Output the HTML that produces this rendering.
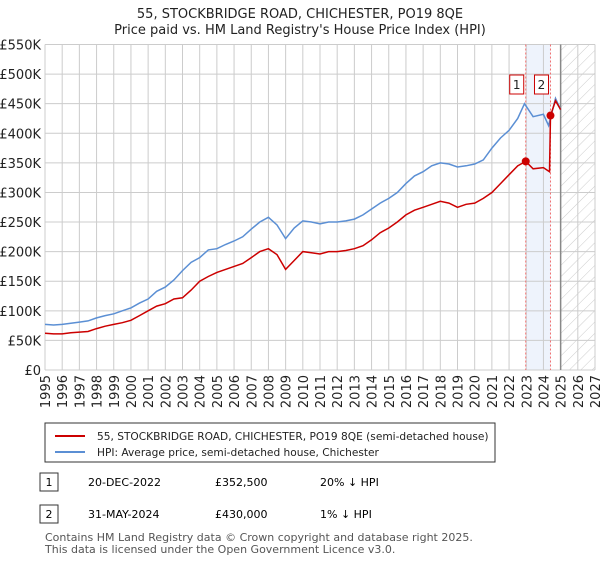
<!DOCTYPE html>
<html><head><meta charset="utf-8"><style>
body{margin:0;background:#fff;font-family:"Liberation Sans","DejaVu Sans",sans-serif;}
svg text{font-family:"DejaVu Sans","Liberation Sans",sans-serif;}
</style></head><body>
<svg id="chart" width="600" height="560" xmlns="http://www.w3.org/2000/svg">
<defs>
<pattern id="hatch" width="8" height="8" patternUnits="userSpaceOnUse" patternTransform="rotate(45)">
<line x1="0" y1="0" x2="0" y2="8" stroke="#ccc" stroke-width="1"/></pattern>
<clipPath id="clip"><rect x="45" y="44" width="550" height="326"/></clipPath>
</defs>
<text x="300" y="18" text-anchor="middle" font-size="13" fill="#222">55, STOCKBRIDGE ROAD, CHICHESTER, PO19 8QE</text>
<text x="300" y="34" text-anchor="middle" font-size="13" fill="#222">Price paid vs. HM Land Registry's House Price Index (HPI)</text>
<g id="grid"></g>
<g id="marks" clip-path="url(#clip)"></g>
<g id="axes"></g>
<rect x="45" y="423" width="450" height="39" fill="#fff" stroke="#333"/>
<line x1="55" y1="436" x2="85" y2="436" stroke="#cc0000" stroke-width="2"/>
<text x="97" y="440" font-size="10.6" fill="#222">55, STOCKBRIDGE ROAD, CHICHESTER, PO19 8QE (semi-detached house)</text>
<line x1="55" y1="452" x2="85" y2="452" stroke="#5b8fd4" stroke-width="2"/>
<text x="97" y="456" font-size="10.6" fill="#222">HPI: Average price, semi-detached house, Chichester</text>
<g>
<rect x="40" y="473" width="18" height="18" fill="#fff" stroke="#333"/>
<text x="49" y="486" text-anchor="middle" font-size="11">1</text>
<text x="88" y="486" font-size="11">20-DEC-2022</text>
<text x="215" y="486" font-size="11">£352,500</text>
<text x="320" y="486" font-size="11">20% ↓ HPI</text></g>
<g>
<rect x="40" y="505" width="18" height="18" fill="#fff" stroke="#333"/>
<text x="49" y="518" text-anchor="middle" font-size="11">2</text>
<text x="88" y="518" font-size="11">31-MAY-2024</text>
<text x="215" y="518" font-size="11">£430,000</text>
<text x="320" y="518" font-size="11">1% ↓ HPI</text></g>
<text x="45" y="541" font-size="11" fill="#555">Contains HM Land Registry data © Crown copyright and database right 2025.</text>
<text x="45" y="553" font-size="11" fill="#555">This data is licensed under the Open Government Licence v3.0.</text>
</svg>
<script>
const yTicks=[0,50000,100000,150000,200000,250000,300000,350000,400000,450000,500000,550000];
const yTickLabels=["£0","£50K","£100K","£150K","£200K","£250K","£300K","£350K","£400K","£450K","£500K","£550K"];
const xTicks=[1995,1996,1997,1998,1999,2000,2001,2002,2003,2004,2005,2006,2007,2008,2009,2010,2011,2012,2013,2014,2015,2016,2017,2018,2019,2020,2021,2022,2023,2024,2025,2026,2027];
const hpiYears=[1995,1995.5,1996,1996.5,1997,1997.5,1998,1998.5,1999,1999.5,2000,2000.5,2001,2001.5,2002,2002.5,2003,2003.5,2004,2004.5,2005,2005.5,2006,2006.5,2007,2007.5,2008,2008.5,2009,2009.5,2010,2010.5,2011,2011.5,2012,2012.5,2013,2013.5,2014,2014.5,2015,2015.5,2016,2016.5,2017,2017.5,2018,2018.5,2019,2019.5,2020,2020.5,2021,2021.5,2022,2022.5,2022.9,2023.4,2024,2024.3,2024.7,2025];
const hpiValues=[77,76,77,79,81,83,88,92,95,100,105,113,120,133,140,152,168,182,190,203,205,212,218,225,238,250,258,245,222,240,252,250,247,250,250,252,255,262,272,282,290,300,315,328,335,345,350,348,343,345,348,355,375,392,405,425,450,428,432,413,459,440];
const ppYears=[1995,1995.5,1996,1996.5,1997,1997.5,1998,1998.5,1999,1999.5,2000,2000.5,2001,2001.5,2002,2002.5,2003,2003.5,2004,2004.5,2005,2005.5,2006,2006.5,2007,2007.5,2008,2008.5,2009,2009.5,2010,2010.5,2011,2011.5,2012,2012.5,2013,2013.5,2014,2014.5,2015,2015.5,2016,2016.5,2017,2017.5,2018,2018.5,2019,2019.5,2020,2020.5,2021,2021.5,2022,2022.5,2022.97,2023.4,2024,2024.35,2024.41,2024.7,2025];
const ppValues=[62,61,61,63,64,65,70,74,77,80,84,92,100,108,112,120,122,135,150,158,165,170,175,180,190,200,205,195,170,185,200,198,196,200,200,202,205,210,220,232,240,250,262,270,275,280,285,282,275,280,282,290,300,315,330,345,352.5,340,342,335,430,455,440];
const saleYears=[2022.97,2024.41];
const saleValues=[352.5,430];
const saleLabels=["1","2"];

const NS="http://www.w3.org/2000/svg";
const X0=45,X1=595,Y0=370,Y1=44.5;
const x=y=>X0+(y-1995)/(2027-1995)*(X1-X0);
const yv=v=>Y0-v/550000*(Y0-Y1);
function mk(tag,attrs,parent){const e=document.createElementNS(NS,tag);for(const k in attrs)e.setAttribute(k,attrs[k]);parent.appendChild(e);return e;}
const grid=document.getElementById('grid'),marks=document.getElementById('marks'),axes=document.getElementById('axes');
let r=mk('rect',{x:x(saleYears[0]),y:Y1,width:x(saleYears[1])-x(saleYears[0]),height:Y0-Y1,fill:'#eef3fc'},grid);


r=mk('rect',{x:x(2025),y:Y1,width:X1-x(2025),height:Y0-Y1,fill:'url(#hatch)'},grid);


yTicks.forEach((v,i)=>{
 const l=mk('line',{x1:X0,x2:X1,y1:yv(v),y2:yv(v),stroke:'#ccc'},grid);
 
 
 const t=mk('text',{x:X0-4,y:yv(v)+5,'text-anchor':'end','font-size':'13',fill:'#222'},axes);
 t.textContent=yTickLabels[i];
 
 
});
xTicks.forEach(yr=>{
 const l=mk('line',{x1:x(yr),x2:x(yr),y1:Y1,y2:Y0,stroke:'#ccc'},grid);
 
 
 const t=mk('text',{transform:`translate(${x(yr)+5},${Y0+5}) rotate(-90)`,'text-anchor':'end','font-size':'13',fill:'#222'},axes);
 t.textContent=yr;
 
 
});
let l=mk('line',{x1:x(2025),x2:x(2025),y1:Y1,y2:Y0,stroke:'#888','stroke-width':1.5},grid);


saleYears.forEach(s=>{
 const d=mk('line',{x1:x(s),x2:x(s),y1:Y1,y2:Y0,stroke:'#f07070','stroke-dasharray':'2,2'},grid);
 
 
});
const pts=(ys,vs)=>ys.map((yy,i)=>x(yy).toFixed(1)+','+yv(vs[i]*1000).toFixed(1)).join(' ');
let p=mk('polyline',{points:pts(hpiYears,hpiValues),fill:'none',stroke:'#5b8fd4','stroke-width':1.5},marks);


p=mk('polyline',{points:pts(ppYears,ppValues),fill:'none',stroke:'#cc0000','stroke-width':1.5},marks);


saleYears.forEach((s,i)=>{
 const c=mk('circle',{cx:x(s),cy:yv(saleValues[i]*1000),r:4,fill:'#cc0000'},marks);
 
 
 const b=mk('rect',{x:x(s)-16,y:75,width:14,height:19,fill:'#fff',stroke:'#cc0000'},axes);
 
 
 const t=mk('text',{x:x(s)-9,y:89,'text-anchor':'middle','font-size':'12',fill:'#222'},axes);
 t.textContent=saleLabels[i];
 
 
});
</script>
</body></html>
